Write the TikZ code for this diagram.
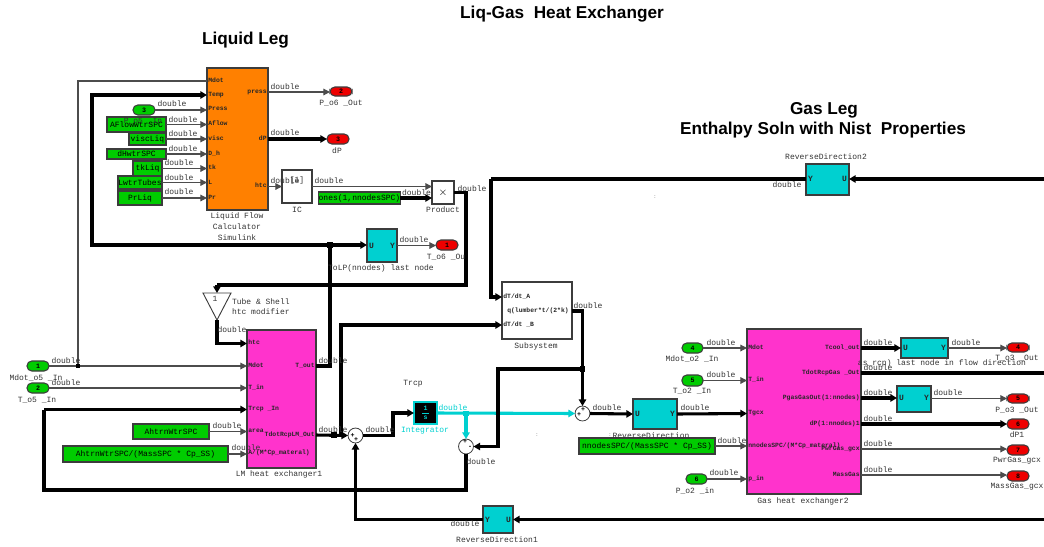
\documentclass[tikz,border=0pt]{standalone}
\usepackage{fontspec}
\setmainfont{Liberation Sans}
\newfontfamily\monof{Liberation Mono}
\usetikzlibrary{arrows.meta}
\definecolor{simgreen}{RGB}{0,204,0}
\definecolor{simorange}{RGB}{255,128,0}
\definecolor{simmag}{RGB}{255,51,204}
\definecolor{simcyan}{RGB}{0,208,208}
\definecolor{simred}{RGB}{238,0,0}
\definecolor{edgegray}{RGB}{60,60,60}
\tikzset{
  base/.style={inner sep=0pt,outer sep=0pt},
  lab/.style={base,font=\monof\fontsize{6}{7}\selectfont,text=black!80},
  port/.style={base,inner xsep=1pt,font=\monof\bfseries\fontsize{4.8}{6}\selectfont,text=black!85,text height=3pt,text depth=1pt},
  cport/.style={base,inner xsep=1.5pt,font=\monof\bfseries\fontsize{6}{7}\selectfont,text=black!85,text height=4pt,text depth=0pt},
  blockbox/.style={base,draw=edgegray,line width=.8pt},
  gbox/.style={blockbox,fill=simgreen,font=\monof\fontsize{6}{7}\selectfont},
  inport/.style={blockbox,fill=simgreen,rounded corners=3.6pt,font=\monof\bfseries\fontsize{5}{6}\selectfont},
  outport/.style={blockbox,fill=simred,rounded corners=3.6pt,font=\monof\bfseries\fontsize{5}{6}\selectfont},
  sumn/.style={base,circle,draw=black!75,line width=.6pt,fill=white,minimum size=11.2pt},
  sg/.style={base,font=\monof\bfseries\fontsize{5}{6}\selectfont},
  title/.style={base,font=\bfseries\fontsize{12.9}{15}\selectfont,align=center},
  sig/.style={line width=.85pt,draw=black!70,-{Triangle[length=5pt,width=5pt]}},
  sigplain/.style={line width=.85pt,draw=black!70},
  bus/.style={line width=2.3pt,draw=black,-{Triangle[length=5pt,width=5.5pt]}},
  busplain/.style={line width=2.3pt,draw=black},
  cy/.style={line width=2.3pt,draw=simcyan,-{Triangle[length=5pt,width=5.5pt]}},
  dotn/.style={base,fill=black,minimum size=4pt},
}
% \blk[style]{name}{x1}{y1}{x2}{y2}{text}
\newcommand\blk[7][]{%
  \pgfmathsetmacro\bw{(#5-#3)*0.75}\pgfmathsetmacro\bh{(#6-#4)*0.75}%
  \pgfmathsetmacro\cx{(#3+#5)/2}\pgfmathsetmacro\cy{(#4+#6)/2}%
  \node[#1,minimum width=\bw pt,minimum height=\bh pt] (#2) at (\cx,\cy) {#7};}
\begin{document}
\begin{tikzpicture}[x=0.75pt,y=-0.75pt]
\useasboundingbox (0,0) rectangle (1044,546);
% titles
\node[title] (t1) at (562,14) {Liq-Gas\ \ Heat Exchanger};
\node[title] (t2) at (245.5,40) {Liquid Leg};
\node[title] (t3) at (824,110) {Gas Leg};
\node[title] (t4) at (823,130) {Enthalpy Soln with Nist\ \ Properties};
% blocks
\blk[blockbox,fill=simorange]{lf}{207}{68}{268}{210}{}
\blk[blockbox,fill=simmag]{lm}{247}{330}{316}{468}{}
\blk[blockbox,fill=simmag]{gas}{747}{329}{861}{494}{}
\blk[blockbox,fill=white]{ic}{282}{170}{312}{203}{}
\blk[blockbox,fill=white,font=\fontsize{8}{8}\selectfont]{prod}{432}{181}{454}{204}{$\times$}
\blk[blockbox,fill=white]{sub}{502}{282}{572}{339}{}
\blk[blockbox,fill=simcyan]{tolp}{367}{229}{397}{262}{}
\blk[blockbox,fill=simcyan]{rdir}{633}{399}{677}{429}{}
\blk[blockbox,fill=simcyan]{rd1}{483}{506}{513}{533}{}
\blk[blockbox,fill=simcyan]{rd2}{806}{164}{849}{195}{}
\blk[blockbox,fill=simcyan]{ca}{901}{338}{948}{358}{}
\blk[blockbox,fill=simcyan]{cb}{897}{386}{931}{412}{}
\blk[base,draw=simcyan,line width=.9pt,fill=black]{integ}{414}{402}{437}{424}{}
% constants
\blk[gbox]{kaflow}{107}{117}{166}{132}{AFlowWtrSPC}
\blk[gbox]{kvisc}{129}{133}{166}{145}{viscLiq}
\blk[gbox]{kdh}{107}{149}{166}{159}{dHwtrSPC}
\blk[gbox]{ktk}{133}{161}{162}{176}{tkLiq}
\blk[gbox]{kl}{118}{176}{162}{189}{LwtrTubes}
\blk[gbox]{kpr}{118}{191}{162}{205}{PrLiq}
\blk[gbox]{kones}{319}{192}{400}{204}{ones(1,nnodesSPC)}
\blk[gbox]{karea}{133}{424}{209}{439}{AhtrnWtrSPC}
\blk[gbox]{kamc}{63}{446}{228}{462}{AhtrnWtrSPC/(MassSPC * Cp\_SS)}
\blk[gbox]{knn}{579}{438}{715}{454}{nnodesSPC/(MassSPC * Cp\_SS)}
% inports
\blk[inport]{in1}{27}{361}{49}{371}{1}
\blk[inport]{in2}{27}{383}{49}{393}{2}
\blk[inport]{in3}{133}{105}{155}{115}{3}
\blk[inport]{in4}{682}{343}{703}{353}{4}
\blk[inport]{in5}{682}{375}{703}{386}{5}
\blk[inport]{in6}{686}{474}{707}{484}{6}
% outports
\blk[outport]{ou1}{436}{240}{458}{250}{1}
\blk[outport]{ou2}{330}{87}{352}{96}{2}
\blk[outport]{ou3}{327}{134}{349}{144}{3}
\blk[outport]{ou4}{1007}{343}{1029}{352}{4}
\blk[outport]{ou5}{1007}{394}{1029}{403}{5}
\blk[outport]{ou6}{1007}{419}{1029}{429}{6}
\blk[outport]{ou7}{1007}{445}{1029}{455}{7}
\blk[outport]{ou8}{1007}{471}{1029}{481}{8}
% sums
\node[sumn] (sum1) at (355.5,435.5) {};
\node[sumn] (sum2) at (466,446.5) {};
\node[sumn] (sum3) at (582.5,413.5) {};
% ports of liquid flow calculator
\node[port,anchor=west] (lf1) at (207,81) {Mdot};
\node[port,anchor=west] (lf2) at (207,95) {Temp};
\node[port,anchor=west] (lf3) at (207,109.5) {Press};
\node[port,anchor=west] (lf4) at (207,124.5) {Aflow};
\node[port,anchor=west] (lf5) at (207,139) {visc};
\node[port,anchor=west] (lf6) at (207,154) {D\_h};
\node[port,anchor=west] (lf7) at (207,168.5) {tk};
\node[port,anchor=west] (lf8) at (207,183) {L};
\node[port,anchor=west] (lf9) at (207,198) {Pr};
\node[port,anchor=east] (lfa) at (268,92) {press};
\node[port,anchor=east] (lfb) at (268,139) {dP};
\node[port,anchor=east] (lfc) at (268,186.5) {htc};
% ports of LM heat exchanger
\node[port,anchor=west] (lm1) at (247,343.5) {htc};
\node[port,anchor=west] (lm2) at (247,366) {Mdot};
\node[port,anchor=west] (lm3) at (247,388) {T\_in};
\node[port,anchor=west] (lm4) at (247,409.5) {Trcp \_In};
\node[port,anchor=west] (lm5) at (247,431.5) {area};
\node[port,anchor=west] (lm6) at (247,453) {A/(M*Cp\_materal)};
\node[port,anchor=east] (lm7) at (316,366) {T\_out};
\node[port,anchor=east] (lm8) at (316,435) {TdotRcpLM\_Out};
% ports of gas heat exchanger
\node[port,anchor=west] (ga1) at (747,348) {Mdot};
\node[port,anchor=west] (ga2) at (747,380) {T\_in};
\node[port,anchor=west] (ga3) at (747,413.5) {Tgcx};
\node[port,anchor=west] (ga4) at (747,446) {nnodesSPC/(M*Cp\_materal)};
\node[port,anchor=west] (ga5) at (747,479) {p\_in};
\node[port,anchor=east] (ga6) at (861,348) {Tcool\_out};
\node[port,anchor=east] (ga7) at (861,373) {TdotRcpGas \_Out};
\node[port,anchor=east] (ga8) at (861,398) {PgasGasOut(1:nnodes)};
\node[port,anchor=east] (ga9) at (861,424) {dP(1:nnodes)1};
\node[port,anchor=east] (ga10) at (861,449) {PwrGas\_gcx};
\node[port,anchor=east] (ga11) at (861,475) {MassGas};
% subsystem ports
\node[port,anchor=west] (suba) at (502,297) {dT/dt\_A};
\node[port,anchor=west] (subb) at (502,325) {dT/dt \_B};
\node[port] (subq) at (538,311) {q(lumber*t/(2*k)};
\coordinate (subo) at (572,311);
% cyan block ports
\node[cport,anchor=west] (tolpu) at (367,245.5) {U};
\node[cport,anchor=east] (tolpy) at (397,245.5) {Y};
\node[cport,anchor=west] (rdiru) at (633,413.5) {U};
\node[cport,anchor=east] (rdiry) at (677,413.5) {Y};
\node[cport,anchor=west] (rd1y) at (483,519.5) {Y};
\node[cport,anchor=east] (rd1u) at (513,519.5) {U};
\node[cport,anchor=west] (rd2y) at (806,179) {Y};
\node[cport,anchor=east] (rd2u) at (849,179) {U};
\node[cport,anchor=west] (cau) at (901,348) {U};
\node[cport,anchor=east] (cay) at (948,348) {Y};
\node[cport,anchor=west] (cbu) at (897,398) {U};
\node[cport,anchor=east] (cby) at (931,398) {Y};
% gain triangle
\coordinate (tritop) at (217,293);
\coordinate (tritip) at (217,320);
\draw[line width=.7pt,draw=edgegray,fill=white] (203,293) -- (231,293) -- (tritip) -- cycle;
\node[lab] (trione) at (215,298.5) {1};
% free ends and junctions
\coordinate (edgeA) at (1044,179);
\coordinate (edgeB) at (1044,373);
\coordinate (edgeC) at (1044,519.5);
\coordinate (jm) at (78,366);
\coordinate (jt) at (330,245);
\coordinate (jl) at (334,435);
\coordinate (js) at (582.5,369);
\coordinate (jc) at (466,413.5);
% signal wires
\draw[sig] (in1) -- (in1 -| lm2.west);
\draw[sigplain] (jm) -- (78,81) -- (lf1.west);
\draw[sig] (in2) -- (in2 -| lm3.west);
\draw[sig] (in3) -- (in3 -| lf3.west);
\draw[sig] (kaflow) -- (kaflow -| lf4.west);
\draw[sig] (kvisc) -- (kvisc -| lf5.west);
\draw[sig] (kdh) -- (kdh -| lf6.west);
\draw[sig] (ktk) -- (ktk -| lf7.west);
\draw[sig] (kl) -- (kl -| lf8.west);
\draw[sig] (kpr) -- (kpr -| lf9.west);
\draw[sig] (lfa.east) -- (ou2.west |- lfa.east);
\draw[bus] (lfb.east) -- (ou3.west |- lfb.east);
\draw[sig] (lfc.east) -- (ic.west |- lfc.east);
\draw[sig] (ic.east |- lfc.east) -- (prod.west |- lfc.east);
\draw[bus] (kones) -- (prod.west |- kones);
\draw[busplain] (prod.east) -- (466,192.5) -- (466,285) -- (217,285);
\draw[bus] (217,285) -- (tritop);
\draw[bus] (tritip) -- (217,343.5) -- (lm1.west);
\draw[busplain] (lm7.east) -- (330,366) -- (jt);
\draw[bus] (jt) -- (jt -| tolp.west);
\draw[bus] (jt) -- (92,245) -- (92,95) -- (lf2.west);
\draw[sig] (tolp.east) -- (ou1.west |- tolp.east);
\draw[bus] (edgeA) -- (edgeA -| rd2.east);
\draw[busplain] (edgeA -| rd2.west) -- (491,179);
\draw[bus] (491,179) -- (491,297) -- (suba.west);
\draw[sig] (karea) -- (karea -| lm5.west);
\draw[sig] (kamc) -- (kamc -| lm6.west);
\draw[bus] (lm8.east) -- (sum1.west);
\draw[bus] (341,435) -- (341,325) -- (subb.west);
\draw[bus] (sum1.east) -- (393,435.5) -- (393,413) -- (integ.west);
\draw[cy] (integ.east) -- (sum3.west);
\draw[cy] (jc) -- (sum2.north);
\draw[bus] (subo) -- (582.5,311) -- (sum3.north);
\draw[bus] (js) -- (498,369) -- (498,446.5) -- (sum2.east);
\draw[busplain] (sum2.south) -- (466,490) -- (44,490) -- (44,409.5);
\draw[bus] (44,409.5) -- (lm4.west);
\draw[bus] (edgeC) -- (rd1.east);
\draw[bus] (rd1.west) -- (355.5,519.5) -- (sum1.south);
\draw[bus] (sum3.east) -- (rdir.west);
\draw[bus] (rdir.east) -- (ga3.west);
\draw[sig] (in4) -- (in4 -| ga1.west);
\draw[sig] (in5) -- (in5 -| ga2.west);
\draw[sig] (knn) -- (ga4.west);
\draw[sig] (in6) -- (in6 -| ga5.west);
\draw[bus] (ga6.east) -- (ca.west);
\draw[busplain] (ga7.east) -- (edgeB);
\draw[bus] (ga8.east) -- (cb.west |- ga8.east);
\draw[bus] (ga9.east) -- (ou6.west |- ga9.east);
\draw[sig] (ga10.east) -- (ou7.west |- ga10.east);
\draw[sig] (ga11.east) -- (ou8.west |- ga11.east);
\draw[sig] (ca.east) -- (ou4.west |- ca.east);
\draw[sig] (cb.east |- ou5) -- (ou5.west);
% junction dots
\node[dotn,minimum size=2.5pt] (djm) at (jm) {};
\node[dotn] (djt) at (jt) {};
\node[dotn] (djl) at (jl) {};
\node[dotn] (djs) at (js) {};
\node[dotn,fill=simcyan] (djc) at (jc) {};
% block interior texts
\node[lab] (icv) at (297,180) {[1]};
\node[lab,text=simcyan,font=\monof\bfseries\fontsize{5}{5}\selectfont] (i1) at (425.5,408.5) {1};
\draw[simcyan,line width=.6pt] (422,413) -- (429,413);
\node[lab,text=simcyan,font=\monof\bfseries\fontsize{5}{5}\selectfont] (i2) at (425.5,418) {s};
\node[sg] (s1a) at (352.5,436) {+};
\node[sg] (s1b) at (356,440) {+};
\node[sg] (s2a) at (465,441.5) {+};
\node[sg] (s2b) at (470,447) {-};
\node[sg] (s3a) at (579,414.5) {+};
\node[sg] (s3b) at (583,409.5) {+};
% block captions
\node[lab] (c1) at (143,121) {P\_o5 \_In};
\node[lab] (c2) at (341,103.5) {P\_o6 \_Out};
\node[lab] (c3) at (337,151) {dP};
\node[lab] (c4) at (297,209.5) {IC};
\node[lab] (c5) at (443,209.5) {Product};
\node[lab] (c6) at (237,216) {Liquid Flow};
\node[lab] (c7) at (237,227) {Calculator};
\node[lab] (c8) at (237,238) {Simulink};
\node[lab] (c9) at (381,268) {ToLP(nnodes) last node};
\node[lab] (c10) at (446,257) {T\_o6 \_Ou};
\node[lab,anchor=west] (c11) at (232,302) {Tube \& Shell};
\node[lab,anchor=west] (c12) at (232,312) {htc modifier};
\node[lab] (c13) at (36,378) {Mdot\_o5 \_In};
\node[lab] (c14) at (37,400) {T\_o5 \_In};
\node[lab] (c15) at (279,474) {LM heat exchanger1};
\node[lab] (c16) at (413,384) {Trcp};
\node[lab,text=simcyan] (c17) at (425,431) {Integrator};
\node[lab] (c18) at (536,346) {Subsystem};
\node[lab] (c19) at (651,435.5) {ReverseDirection};
\node[lab] (c20) at (497,540) {ReverseDirection1};
\node[lab] (c21) at (826,157) {ReverseDirection2};
\node[lab] (c22) at (803,501) {Gas heat exchanger2};
\node[lab] (c23) at (692,359) {Mdot\_o2 \_In};
\node[lab] (c24) at (692,391) {T\_o2 \_In};
\node[lab] (c25) at (695,491) {P\_o2 \_in};
\node[lab] (c26) at (1017,358) {T\_o3 \_Out};
\node[lab,anchor=east] (c27) at (1026,363.5) {as\_rcp) last node in flow direction};
\node[lab] (c28) at (1017,410) {P\_o3 \_Out};
\node[lab] (c29) at (1017,435) {dP1};
\node[lab] (c30) at (1017,461) {PwrGas\_gcx};
\node[lab] (c31) at (1017,487) {MassGas\_gcx};
\node[lab,text=black!45,font=\monof\fontsize{4}{4}\selectfont] (m1) at (655,197) {:};
\node[lab,text=black!45,font=\monof\fontsize{4}{4}\selectfont] (m2) at (537,435) {:};
\node[lab,text=black!45,font=\monof\fontsize{4}{4}\selectfont] (m3) at (610,435) {:};
% signal labels
\foreach \xx/\yy [count=\i] in {285/86.5,285/133,285/181,329/181,172/104,183/120,183/134,183/149,179/163,179/178,179/192,
  416.5/193,472/189,414/240,588/306,232/330,66/361,66/383,333/361,227/426,246/448,333/430,380/430,481/462,607/408,695/408,
  732/441,724/473,721/343,721/375,878/343,878/368,878/393,878/419,878/444,878/470,966/343,948/393,465/524,787/185}
  \node[lab] (dbl\i) at (\xx,\yy) {double};
\node[lab,text=simcyan] (dblc) at (453,408) {double};
\end{tikzpicture}
\end{document}
